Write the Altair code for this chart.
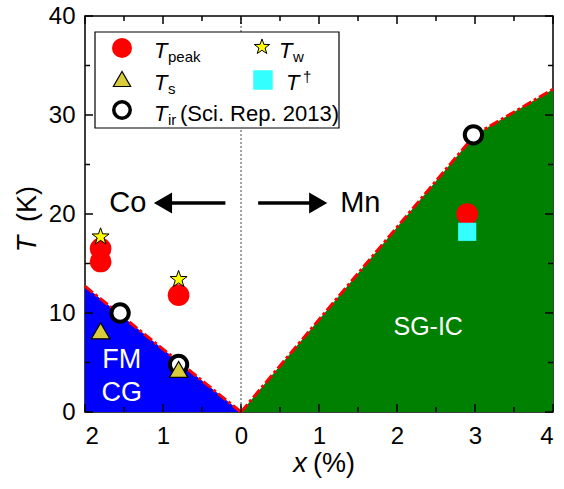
import altair as alt
import pandas as pd

# ---------------- data ----------------
peak_x = [-1.8, -1.8, -0.8, 2.9]
peak_y = [16.5, 15.2, 11.8, 20.0]
w_x = [-1.8, -0.8]
w_y = [17.7, 13.4]
s_x = [-1.8, -0.8]
s_y = [8.2, 4.3]
ir_x = [-1.55, -0.8, 2.98]
ir_y = [10.0, 4.8, 28.0]
dag_x = [2.9]
dag_y = [18.2]
fm_x = [-2.0, 0.0]
fm_y = [12.7, 0.0]
sg_x = [0.0, 3.0, 4.0]
sg_y = [0.0, 28.0, 32.6]
x_major = [-2, -1, 0, 1, 2, 3, 4]
x_minor = [-1.5, -0.5, 0.5, 1.5, 2.5, 3.5]
y_major = [0, 10, 20, 30, 40]
y_minor = [5, 15, 25, 35]

W, H = 468, 396
FONT = "Liberation Sans"
STAR = ("M0,-1L0.235,-0.324L0.951,-0.309L0.380,0.124L0.588,0.809L0,0.4"
        "L-0.588,0.809L-0.380,0.124L-0.951,-0.309L-0.235,-0.324Z")

xs = alt.Scale(domain=[-2, 4], nice=False, zero=False)
ys = alt.Scale(domain=[0, 40], nice=False, zero=False)

xaxis = alt.Axis(values=x_major, labelExpr="abs(datum.value)", ticks=False, domain=False,
                 grid=False, title=None, labelFont=FONT, labelFontSize=24, labelColor="black",
                 labelPadding=12)
yaxis = alt.Axis(values=y_major, ticks=False, domain=False, grid=False, title=None,
                 labelFont=FONT, labelFontSize=24, labelColor="black", labelPadding=10)

def X():
    return alt.X("x:Q", scale=xs, axis=xaxis)

def Y():
    return alt.Y("y:Q", scale=ys, axis=yaxis)

dummy = pd.DataFrame({"x": [0], "y": [0]})

fm = pd.DataFrame({"x": fm_x, "y": fm_y})
sg = pd.DataFrame({"x": sg_x, "y": sg_y})

fm_area = alt.Chart(fm).mark_area(color="#0000FF", opacity=1).encode(
    x=X(), y=Y(), y2=alt.datum(0))
sg_area = alt.Chart(sg).mark_area(color="#008000", opacity=1).encode(
    x=X(), y=Y(), y2=alt.datum(0))
dash = [10, 3, 3, 3]
fm_line = alt.Chart(fm).mark_line(color="#FF0000", strokeWidth=3, strokeDash=dash).encode(x=X(), y=Y())
sg_line = alt.Chart(sg).mark_line(color="#FF0000", strokeWidth=3, strokeDash=dash).encode(x=X(), y=Y())

zero_line = alt.Chart(pd.DataFrame({"x": [0, 0], "y": [0, 40]})).mark_line(
    color="#666666", strokeWidth=1.2, strokeDash=[2, 2]).encode(x=X(), y=Y())

peak = alt.Chart(pd.DataFrame({"x": peak_x, "y": peak_y})).mark_point(
    shape="circle", filled=True, color="#FF0000", size=470, opacity=1).encode(x=X(), y=Y())
dag = alt.Chart(pd.DataFrame({"x": dag_x, "y": dag_y})).mark_point(
    shape="square", filled=True, color="#33FFFF", size=330, opacity=1).encode(x=X(), y=Y())
star = alt.Chart(pd.DataFrame({"x": w_x, "y": w_y})).mark_point(
    shape=STAR, filled=True, fill="#FFFF00", stroke="black", strokeWidth=1, size=320, opacity=1).encode(x=X(), y=Y())
tri = alt.Chart(pd.DataFrame({"x": s_x, "y": s_y})).mark_point(
    shape="triangle-up", filled=True, fill="#D9CC3C", stroke="black", strokeWidth=1.2, size=340, opacity=1).encode(x=X(), y=Y())
ir = alt.Chart(pd.DataFrame({"x": ir_x, "y": ir_y})).mark_point(
    shape="circle", filled=True, fill="white", stroke="black", strokeWidth=4, size=300, opacity=1).encode(x=X(), y=Y())

# inward ticks on all four sides
xmaj = pd.DataFrame({"x": x_major})
xmin = pd.DataFrame({"x": x_minor})
ymaj = pd.DataFrame({"y": y_major})
ymin = pd.DataFrame({"y": y_minor})
tk = dict(color="black", strokeWidth=1.5)
ticks = [
    alt.Chart(xmaj).mark_rule(**tk).encode(x=X(), y=alt.value(H), y2=alt.value(H - 8)),
    alt.Chart(xmaj).mark_rule(**tk).encode(x=X(), y=alt.value(0), y2=alt.value(8)),
    alt.Chart(xmin).mark_rule(**tk).encode(x=X(), y=alt.value(H), y2=alt.value(H - 5)),
    alt.Chart(xmin).mark_rule(**tk).encode(x=X(), y=alt.value(0), y2=alt.value(5)),
    alt.Chart(ymaj).mark_rule(**tk).encode(y=Y(), x=alt.value(0), x2=alt.value(8)),
    alt.Chart(ymaj).mark_rule(**tk).encode(y=Y(), x=alt.value(W), x2=alt.value(W - 8)),
    alt.Chart(ymin).mark_rule(**tk).encode(y=Y(), x=alt.value(0), x2=alt.value(5)),
    alt.Chart(ymin).mark_rule(**tk).encode(y=Y(), x=alt.value(W), x2=alt.value(W - 5)),
]

def txt(t, x, y, size=22, style="normal", color="black", align="left", baseline="alphabetic", angle=0):
    kw = dict(text=t, font=FONT, fontSize=size, fontStyle=style, color=color,
              align=align, baseline=baseline)
    if angle:
        kw["angle"] = angle
    return alt.Chart(dummy).mark_text(**kw).encode(x=alt.value(x), y=alt.value(y))

def dtxt(t, xv, yv, size=22, color="black"):
    d = pd.DataFrame({"x": [xv], "y": [yv]})
    return alt.Chart(d).mark_text(text=t, font=FONT, fontSize=size, color=color,
                                  align="center", baseline="middle").encode(x=X(), y=Y())

co_mn_y = 21.1
arrows = [
    alt.Chart(pd.DataFrame({"x": [-0.2, -0.95], "y": [co_mn_y, co_mn_y]})).mark_line(
        color="black", strokeWidth=3.5).encode(x=X(), y=Y()),
    alt.Chart(pd.DataFrame({"x": [0.22, 0.95], "y": [co_mn_y, co_mn_y]})).mark_line(
        color="black", strokeWidth=3.5).encode(x=X(), y=Y()),
    alt.Chart(pd.DataFrame({"x": [-1.0], "y": [co_mn_y]})).mark_point(
        shape="triangle-left", filled=True, color="black", size=440, opacity=1).encode(x=X(), y=Y()),
    alt.Chart(pd.DataFrame({"x": [0.99], "y": [co_mn_y]})).mark_point(
        shape="triangle-right", filled=True, color="black", size=440, opacity=1).encode(x=X(), y=Y()),
]

labels = [
    dtxt("Co", -1.45, co_mn_y, size=29),
    dtxt("Mn", 1.53, co_mn_y, size=29),
    dtxt("FM", -1.53, 5.3, size=27, color="white"),
    dtxt("CG", -1.53, 1.9, size=27, color="white"),
    dtxt("SG-IC", 2.4, 8.6, size=25, color="white"),
]

legend = [
    alt.Chart(dummy).mark_rect(fill="white", stroke="black", strokeWidth=1.2).encode(
        x=alt.value(10), x2=alt.value(254), y=alt.value(16), y2=alt.value(112)),
    alt.Chart(dummy).mark_point(shape="circle", filled=True, color="#FF0000", size=400, opacity=1).encode(
        x=alt.value(37), y=alt.value(32)),
    alt.Chart(dummy).mark_point(shape="triangle-up", filled=True, fill="#D9CC3C", stroke="black",
                                strokeWidth=1.2, size=300, opacity=1).encode(x=alt.value(37), y=alt.value(63)),
    alt.Chart(dummy).mark_point(shape="circle", filled=True, fill="white", stroke="black",
                                strokeWidth=3.5, size=270, opacity=1).encode(x=alt.value(37), y=alt.value(94)),
    alt.Chart(dummy).mark_point(shape=STAR, filled=True, fill="#FFFF00", stroke="black",
                                strokeWidth=1, size=260, opacity=1).encode(x=alt.value(177), y=alt.value(31)),
    alt.Chart(dummy).mark_point(shape="square", filled=True, color="#33FFFF", size=380, opacity=1).encode(
        x=alt.value(178), y=alt.value(64)),
    txt("T", 69, 42, style="italic"),
    txt("peak", 83, 46, size=15),
    txt("T", 69, 74, style="italic"),
    txt("s", 83, 78, size=15),
    txt("T", 69, 105, style="italic"),
    txt("ir", 83, 109, size=15),
    txt("(Sci. Rep. 2013)", 95, 105),
    txt("T", 194, 42, style="italic"),
    txt("w", 208, 46, size=15),
    txt("T", 201, 74, style="italic"),
    txt("\u2020", 218, 66, size=15),
]

titles = [
    txt("T", -57, 228, size=27, style="italic", align="center", baseline="middle", angle=270),
    txt("(K)", -57, 188, size=27, align="center", baseline="middle", angle=270),
    txt("x", 215, 456, size=27, style="italic", align="center", baseline="alphabetic"),
    txt("(%)", 249, 456, size=27, align="center", baseline="alphabetic"),
]

chart = alt.layer(
    fm_area, sg_area, zero_line, fm_line, sg_line,
    *arrows, *labels,
    peak, dag, star, ir, tri,
    *ticks, *legend, *titles,
).properties(
    width=W, height=H,
    autosize=alt.AutoSizeParams(type="none"),
    padding={"left": 85, "top": 16, "right": 11, "bottom": 77},
    background="white",
).configure_view(stroke="black", strokeWidth=1.5)

chart.save("out.html", embed_options={"renderer": "svg", "actions": False})
